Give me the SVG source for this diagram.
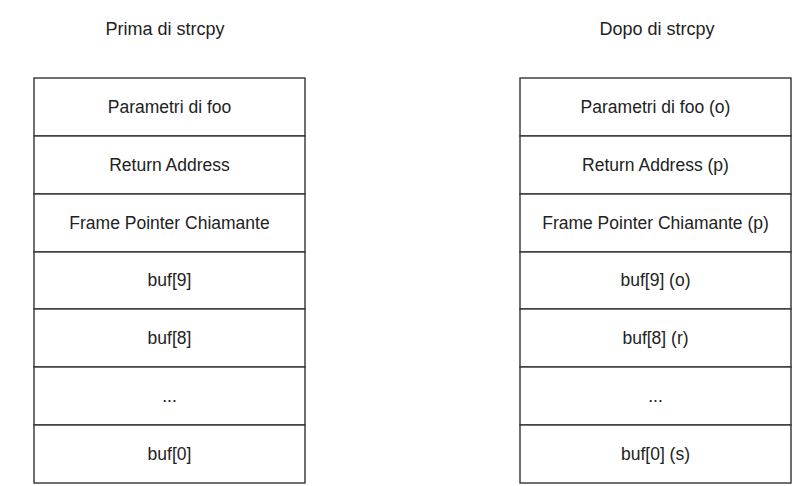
<svg xmlns="http://www.w3.org/2000/svg" width="798" height="486" viewBox="0 0 798 486">
<style>
.cell{fill:#fff;stroke:#333;stroke-width:1.4}
.t{font-family:"Liberation Sans",Arial,sans-serif;font-size:17.5px;fill:#222;text-anchor:middle}
.h{font-family:"Liberation Sans",Arial,sans-serif;font-size:18px;fill:#222;text-anchor:middle}
</style>
<rect width="798" height="486" fill="#fff"/>
<text class="h" x="165" y="35">Prima di strcpy</text>
<text class="h" x="657" y="35">Dopo di strcpy</text>
<g id="left-stack">
<g id="l0"><rect class="cell" x="34" y="78" width="271" height="58"/><text class="t" x="169.5" y="113">Parametri di foo</text></g>
<g id="l1"><rect class="cell" x="34" y="136" width="271" height="58"/><text class="t" x="169.5" y="171">Return Address</text></g>
<g id="l2"><rect class="cell" x="34" y="194" width="271" height="58"/><text class="t" x="169.5" y="229">Frame Pointer Chiamante</text></g>
<g id="l3"><rect class="cell" x="34" y="252" width="271" height="57"/><text class="t" x="169.5" y="286">buf[9]</text></g>
<g id="l4"><rect class="cell" x="34" y="309" width="271" height="58"/><text class="t" x="169.5" y="344">buf[8]</text></g>
<g id="l5"><rect class="cell" x="34" y="367" width="271" height="58"/><text class="t" x="169.5" y="402">...</text></g>
<g id="l6"><rect class="cell" x="34" y="425" width="271" height="58"/><text class="t" x="169.5" y="460">buf[0]</text></g>
</g>
<g id="right-stack">
<g id="r0"><rect class="cell" x="520" y="78" width="271" height="58"/><text class="t" x="655.5" y="113">Parametri di foo (o)</text></g>
<g id="r1"><rect class="cell" x="520" y="136" width="271" height="58"/><text class="t" x="655.5" y="171">Return Address (p)</text></g>
<g id="r2"><rect class="cell" x="520" y="194" width="271" height="58"/><text class="t" x="655.5" y="229">Frame Pointer Chiamante (p)</text></g>
<g id="r3"><rect class="cell" x="520" y="252" width="271" height="57"/><text class="t" x="655.5" y="286">buf[9] (o)</text></g>
<g id="r4"><rect class="cell" x="520" y="309" width="271" height="58"/><text class="t" x="655.5" y="344">buf[8] (r)</text></g>
<g id="r5"><rect class="cell" x="520" y="367" width="271" height="58"/><text class="t" x="655.5" y="402">...</text></g>
<g id="r6"><rect class="cell" x="520" y="425" width="271" height="58"/><text class="t" x="655.5" y="460">buf[0] (s)</text></g>
</g>
<g id="connectors"/>
</svg>
